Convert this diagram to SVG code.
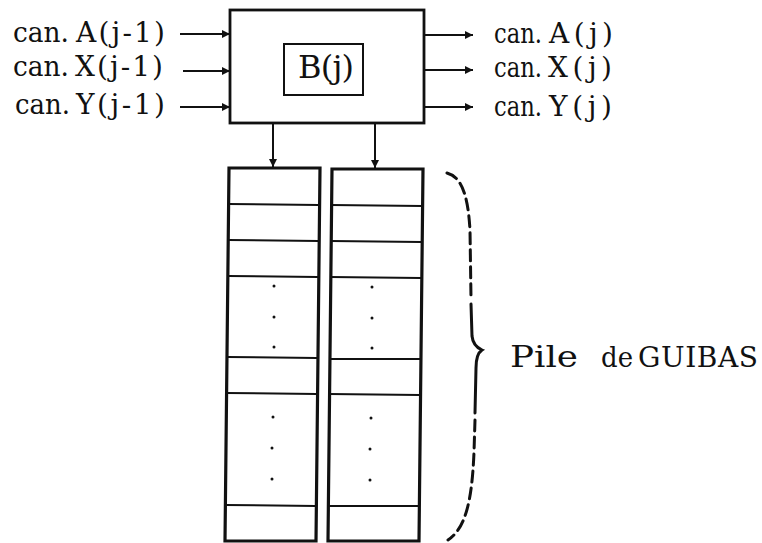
<svg xmlns="http://www.w3.org/2000/svg" width="762" height="543" viewBox="0 0 762 543">
<style>
  text { font-family: "DejaVu Serif", "Liberation Serif", serif; fill: #111; }
  .lbl { font-size: 28px; }
  .box { fill: none; stroke: #111; stroke-width: 2.8; }
  .cell { fill: none; stroke: #111; stroke-width: 2; }
  .col { fill: none; stroke: #111; stroke-width: 3.2; stroke-linejoin: miter; }
  .wire { fill: none; stroke: #111; stroke-width: 2; }
  .dot { fill: #111; }
  .brace { fill: none; stroke: #111; stroke-width: 3; stroke-linecap: round; }
</style>
<defs>
  <marker id="ah" viewBox="0 0 10 10" refX="10" refY="5" markerWidth="9" markerHeight="8" markerUnits="userSpaceOnUse" orient="auto">
    <path d="M0,0 L10,5 L0,10 Z" fill="#111"/>
  </marker>
</defs>

<g id="inputs">
  <text class="lbl" x="13" y="42" textLength="56" lengthAdjust="spacingAndGlyphs">can.</text>
  <text class="lbl" x="76" y="42" textLength="89" lengthAdjust="spacing">A(j-1)</text>
  <text class="lbl" x="13" y="76" textLength="56" lengthAdjust="spacingAndGlyphs">can.</text>
  <text class="lbl" x="75" y="76" textLength="88" lengthAdjust="spacing">X(j-1)</text>
  <text class="lbl" x="15" y="114" textLength="55" lengthAdjust="spacingAndGlyphs">can.</text>
  <text class="lbl" x="76" y="114" textLength="89" lengthAdjust="spacing">Y(j-1)</text>
</g>

<g id="outputs">
  <text class="lbl" x="494" y="43" textLength="48" lengthAdjust="spacingAndGlyphs">can.</text>
  <text class="lbl" x="549" y="43" textLength="64" lengthAdjust="spacing">A(j)</text>
  <text class="lbl" x="494" y="77" textLength="48" lengthAdjust="spacingAndGlyphs">can.</text>
  <text class="lbl" x="548" y="77" textLength="64" lengthAdjust="spacing">X(j)</text>
  <text class="lbl" x="494" y="116" textLength="48" lengthAdjust="spacingAndGlyphs">can.</text>
  <text class="lbl" x="549" y="116" textLength="63" lengthAdjust="spacing">Y(j)</text>
</g>

<g id="block-B">
  <rect class="box" x="230" y="10" width="194" height="113"/>
  <rect class="cell" x="284" y="44" width="79" height="51"/>
  <text x="298" y="78" font-size="32" textLength="56" lengthAdjust="spacing">B(j)</text>
</g>

<g id="stack-left">
  <polygon class="col" points="229,168 320,168 316,541 225,541"/>
  <line class="cell" x1="228" y1="204" x2="319" y2="205"/>
  <line class="cell" x1="228" y1="240" x2="319" y2="241"/>
  <line class="cell" x1="228" y1="276" x2="318" y2="277"/>
  <line class="cell" x1="227" y1="357" x2="317" y2="358"/>
  <line class="cell" x1="226" y1="393" x2="317" y2="394"/>
  <line class="cell" x1="225" y1="505" x2="316" y2="506"/>
  <circle class="dot" cx="274" cy="286" r="1.5"/>
  <circle class="dot" cx="274" cy="317" r="1.5"/>
  <circle class="dot" cx="274" cy="347" r="1.5"/>
  <circle class="dot" cx="273" cy="417" r="1.5"/>
  <circle class="dot" cx="272" cy="448" r="1.5"/>
  <circle class="dot" cx="272" cy="479" r="1.5"/>
</g>

<g id="stack-right">
  <polygon class="col" points="332,169 423,169 419,541 328,541"/>
  <line class="cell" x1="331" y1="205" x2="422" y2="206"/>
  <line class="cell" x1="331" y1="241" x2="421" y2="242"/>
  <line class="cell" x1="330" y1="277" x2="421" y2="278"/>
  <line class="cell" x1="330" y1="359" x2="420" y2="359"/>
  <line class="cell" x1="329" y1="394" x2="420" y2="395"/>
  <line class="cell" x1="328" y1="506" x2="419" y2="506"/>
  <circle class="dot" cx="372" cy="287" r="1.5"/>
  <circle class="dot" cx="372" cy="318" r="1.5"/>
  <circle class="dot" cx="372" cy="348" r="1.5"/>
  <circle class="dot" cx="371" cy="418" r="1.5"/>
  <circle class="dot" cx="370" cy="449" r="1.5"/>
  <circle class="dot" cx="370" cy="480" r="1.5"/>
</g>

<g id="brace-label">
  <path class="brace" stroke-dasharray="11 6" d="M447,173 C462,177 468,196 470,230 L471,298"/>
  <path class="brace" d="M471,304 L472,336 Q473,346 482,350 Q476,354 476,368 L475,413"/>
  <path class="brace" stroke-dasharray="11 6" d="M475,420 L474,452 C472,500 466,528 448,540"/>
  <text x="510" y="367" font-size="30" textLength="68" lengthAdjust="spacingAndGlyphs">Pile</text>
  <text x="601" y="367" font-size="28" textLength="32" lengthAdjust="spacingAndGlyphs">de</text>
  <text x="638" y="367" font-size="28" textLength="120" lengthAdjust="spacing">GUIBAS</text>
</g>

<g id="connectors">
  <line class="wire" x1="180" y1="34" x2="230" y2="34" marker-end="url(#ah)"/>
  <line class="wire" x1="183" y1="71" x2="230" y2="71" marker-end="url(#ah)"/>
  <line class="wire" x1="180" y1="107" x2="230" y2="107" marker-end="url(#ah)"/>
  <line class="wire" x1="424" y1="35" x2="473" y2="35" marker-end="url(#ah)"/>
  <line class="wire" x1="424" y1="70" x2="473" y2="70" marker-end="url(#ah)"/>
  <line class="wire" x1="424" y1="107" x2="473" y2="107" marker-end="url(#ah)"/>
  <line class="wire" x1="273" y1="123" x2="273" y2="167" marker-end="url(#ah)"/>
  <line class="wire" x1="375" y1="123" x2="375" y2="168" marker-end="url(#ah)"/>
</g>
</svg>
